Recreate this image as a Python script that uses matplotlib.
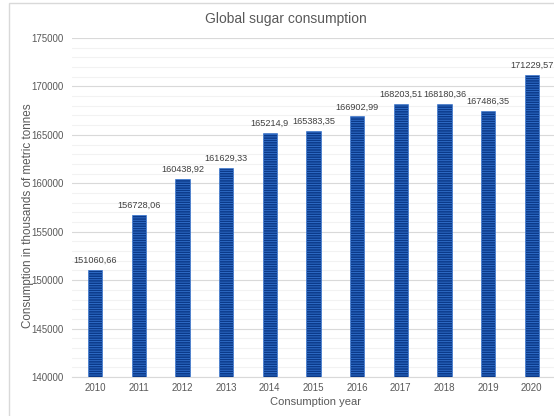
import matplotlib
matplotlib.use("Agg")
import matplotlib.pyplot as plt
from matplotlib.patches import Rectangle
from matplotlib.ticker import MultipleLocator

years = ["2010", "2011", "2012", "2013", "2014", "2015", "2016", "2017", "2018", "2019", "2020"]
consumption = [151060.66, 156728.06, 160438.92, 161629.33, 165214.9, 165383.35,
               166902.99, 168203.51, 168180.36, 167486.35, 171229.57]
value_labels = ["151060,66", "156728,06", "160438,92", "161629,33", "165214,9", "165383,35",
                "166902,99", "168203,51", "168180,36", "167486,35", "171229,57"]

text_color = "#595959"
plt.rcParams["font.family"] = ["Liberation Sans", "DejaVu Sans"]
plt.rcParams["hatch.linewidth"] = 0.55

fig = plt.figure(figsize=(5.54, 4.16), dpi=100)
W, H = 554, 416

# outer chart frame (only its top and left edges fall inside the image)
fig.patches.append(Rectangle((9 / W, -0.1), 1.2, (413 / H) + 0.1, transform=fig.transFigure,
                             fill=False, edgecolor="#d9d9d9", linewidth=1.0, zorder=0))

ax_w = 486
ax = fig.add_axes([72 / W, 39 / H, ax_w / W, 339 / H])
x = list(range(len(years)))
bars = ax.bar(x, consumption, width=0.33, color="#0b3a8a", edgecolor="#3777d4",
              linewidth=0.4, hatch="-------", zorder=3)

ax.set_ylim(140000, 175000)
ax.set_xlim(-0.53, 10.6)
ax.yaxis.set_major_locator(MultipleLocator(5000))
ax.yaxis.set_minor_locator(MultipleLocator(1000))
ax.grid(axis="y", which="major", color="#d9d9d9", linewidth=0.8, zorder=0)
ax.grid(axis="y", which="minor", color="#f2f2f2", linewidth=0.8, zorder=0)
ax.set_axisbelow(True)

for s in ax.spines.values():
    s.set_visible(False)
ax.spines["bottom"].set_visible(True)
ax.spines["bottom"].set_color("#d9d9d9")

ax.set_xticks(x)
ax.set_xticklabels(years)
ax.tick_params(axis="both", which="both", length=0, labelsize=7, labelcolor=text_color)
ax.tick_params(axis="y", pad=6)
ax.tick_params(axis="x", pad=4)

for xi, v, lab in zip(x, consumption, value_labels):
    ax.annotate(lab, (xi, v), xytext=(0, 3.5), textcoords="offset points",
                ha="center", va="bottom", fontsize=6.6, color="#404040")

ax.set_xlabel("Consumption year", fontsize=8, color=text_color, labelpad=3)
ax.set_ylabel("Consumption in thousands of metric tonnes", fontsize=8.4, color=text_color)
ax.yaxis.set_label_coords(-(72 - 34) / ax_w, 0.475)
fig.text(286 / W, 1 - 19 / H, "Global sugar consumption", ha="center", va="center",
         fontsize=10, color=text_color)

fig.savefig("out.png", dpi=100)
